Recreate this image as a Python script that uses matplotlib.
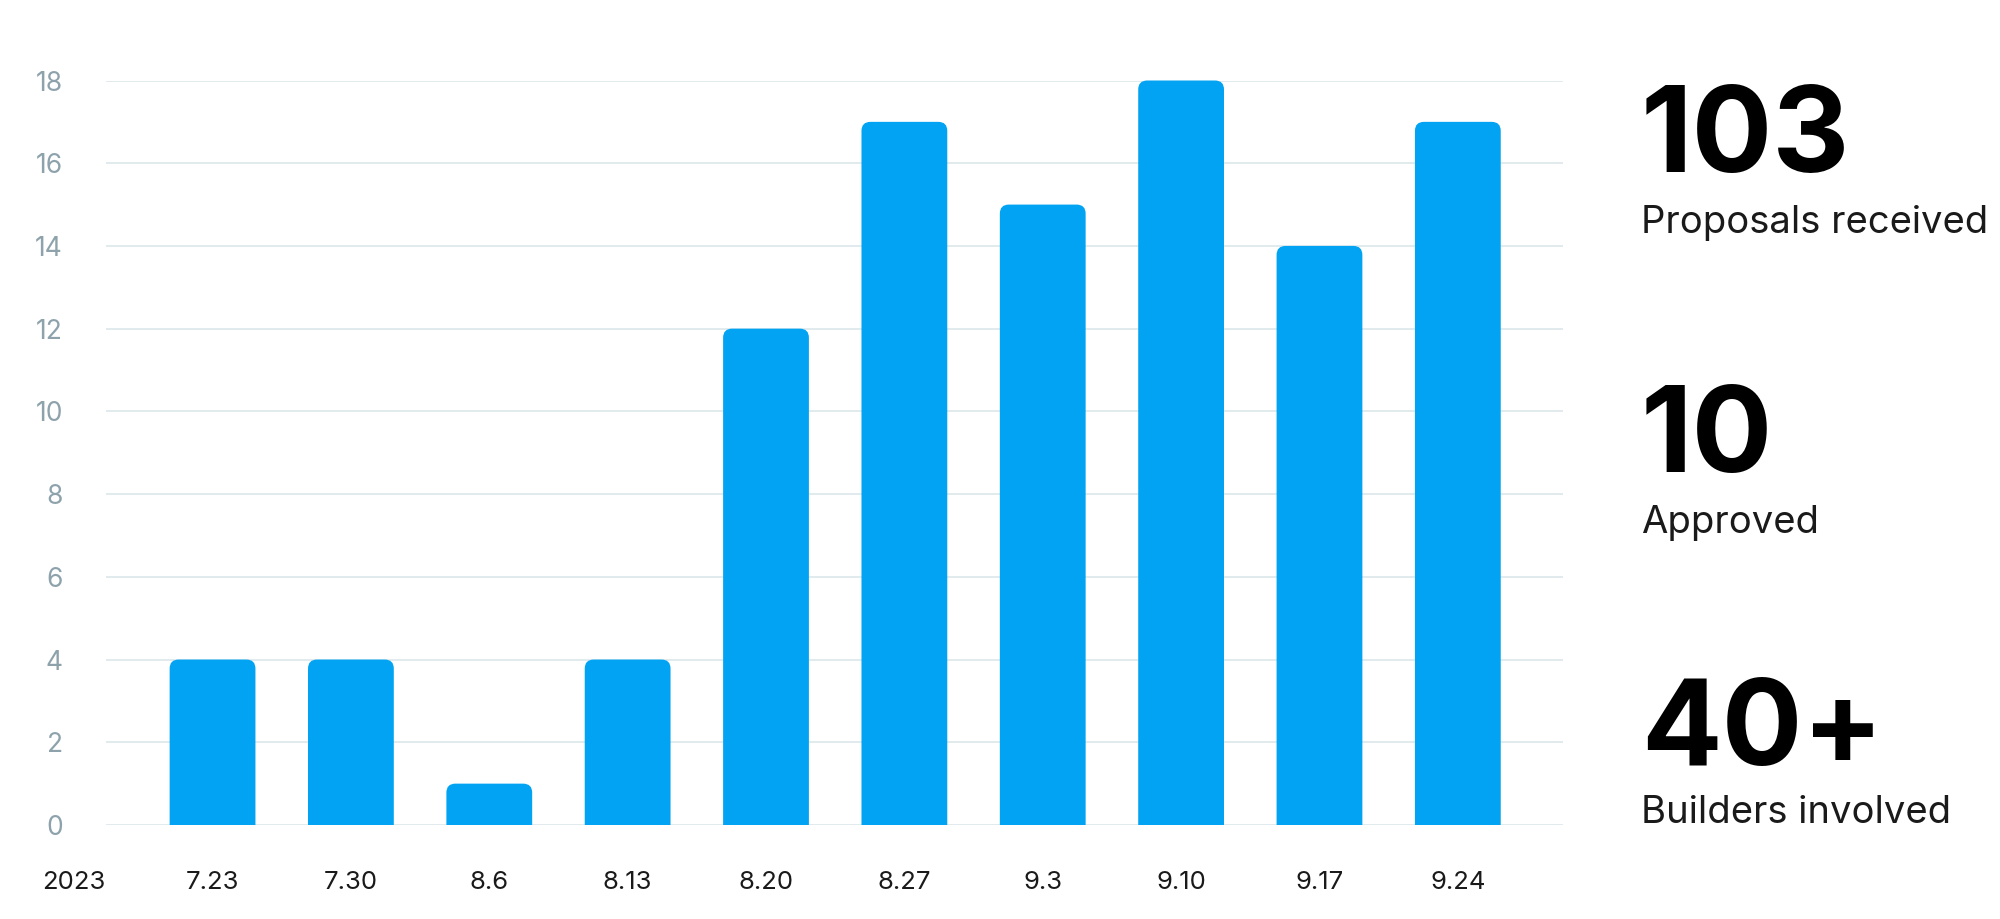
import matplotlib
matplotlib.use("Agg")
import matplotlib.pyplot as plt
from matplotlib.path import Path
from matplotlib.patches import PathPatch

plt.rcParams.update({
    "font.family": ["Inter", "DejaVu Sans"],
})

# weekly proposals, 2023
dates = ["7.23", "7.30", "8.6", "8.13", "8.20", "8.27", "9.3", "9.10", "9.17", "9.24"]
counts = [4, 4, 1, 4, 12, 17, 15, 18, 14, 17]
year_label = "2023"
yticks = [0, 2, 4, 6, 8, 10, 12, 14, 16, 18]

stat_values = ["103", "10", "40+"]
stat_labels = ["Proposals received", "Approved", "Builders involved"]

BLUE = "#02a3f3"
GRID = "#dce6ea"
TICK = "#8ea2ac"
TEXT = "#1a1a1a"

W, H = 2000, 919
fig = plt.figure(figsize=(W / 100, H / 100), dpi=100)
ax = fig.add_axes([106 / W, 1 - 825 / H, (1563 - 106) / W, (825 - 80.5) / H])

x = list(range(len(dates)))
bars = ax.bar(x, counts, width=0.62, color=BLUE, zorder=3)
ax.set_xlim(-0.77, 9.76)
ax.set_ylim(0, 18)

# rounded top corners (same pixel radius in x and y)
r_px = 9
px_x = ax.get_position().width * W / (ax.get_xlim()[1] - ax.get_xlim()[0])
px_y = ax.get_position().height * H / (ax.get_ylim()[1] - ax.get_ylim()[0])
rx, ry = r_px / px_x, r_px / px_y
for b in bars:
    x0, w, h = b.get_x(), b.get_width(), b.get_height()
    x1 = x0 + w
    verts = [(x0, 0), (x0, h - ry), (x0, h), (x0 + rx, h), (x1 - rx, h),
             (x1, h), (x1, h - ry), (x1, 0), (x0, 0)]
    codes = [Path.MOVETO, Path.LINETO, Path.CURVE3, Path.CURVE3, Path.LINETO,
             Path.CURVE3, Path.CURVE3, Path.LINETO, Path.CLOSEPOLY]
    ax.add_patch(PathPatch(Path(verts, codes), facecolor=BLUE, edgecolor="none",
                           zorder=3, clip_on=False))
    b.set_visible(False)

XPAD = 33
XSIZE = 18.5
ax.set_yticks(yticks)
ax.grid(axis="y", color=GRID, linewidth=1.2, zorder=0)
ax.set_axisbelow(True)
for s in ax.spines.values():
    s.set_visible(False)
ax.tick_params(axis="y", length=0, pad=31, labelsize=19, labelcolor=TICK)
ax.tick_params(axis="x", length=0, pad=XPAD, labelsize=XSIZE, labelcolor=TEXT)
ax.set_xticks(x)
ax.set_xticklabels(dates)

# year label sits one slot left of the first week
ax.annotate(year_label, xy=(-1, 0), xycoords=("data", "axes fraction"),
            xytext=(0, -XPAD), textcoords="offset points",
            ha="center", va="top", fontsize=XSIZE, color=TEXT, annotation_clip=False)

# big numbers on the right
val_base = [172, 472, 765]
lab_base = [233, 533, 823]
for v, l, vb, lb in zip(stat_values, stat_labels, val_base, lab_base):
    fig.text(1641 / W, 1 - vb / H, v, fontsize=86, fontweight="bold",
             color="black", va="baseline", ha="left")
    fig.text(1641 / W, 1 - lb / H, l, fontsize=27.5, color=TEXT,
             va="baseline", ha="left")

fig.savefig("out.png", dpi=100, facecolor="white")
